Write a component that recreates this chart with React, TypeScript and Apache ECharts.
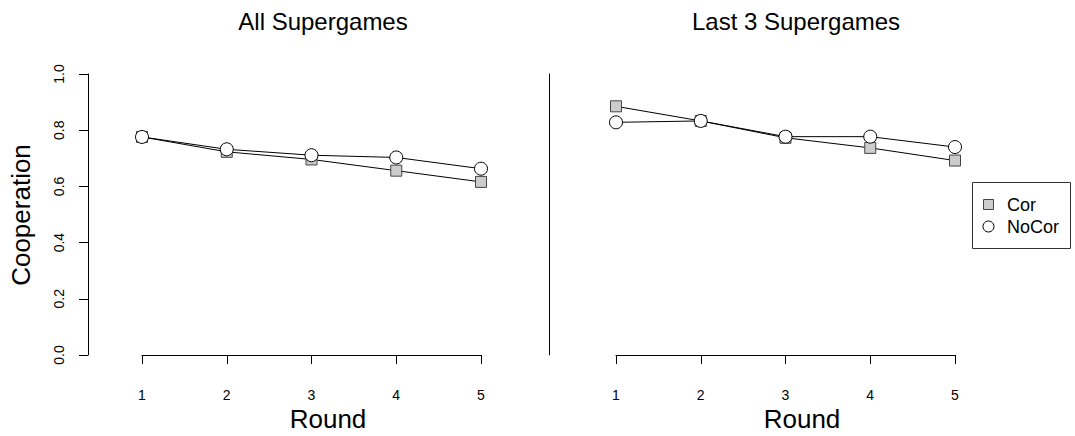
import React, { useEffect, useRef } from "react";
import * as echarts from "echarts";

const rounds = [1, 2, 3, 4, 5];
const roundLabels = ["1", "2", "3", "4", "5"];
const allCor = [0.776, 0.723, 0.696, 0.656, 0.616];
const allNoCor = [0.776, 0.732, 0.711, 0.703, 0.663];
const lastCor = [0.885, 0.833, 0.773, 0.737, 0.692];
const lastNoCor = [0.828, 0.833, 0.777, 0.777, 0.74];
const panelTitles = ["All Supergames", "Last 3 Supergames"];
const seriesNames = ["Cor", "NoCor"];

const FONT = "'Liberation Sans', Arial, Helvetica, sans-serif";

export default function App() {
  const ref = useRef<HTMLDivElement>(null);
  useEffect(() => {
    document.body.style.margin = "0";
    const chart = echarts.init(ref.current!, null, { renderer: "svg" });
    const pair = (vals: number[]) => rounds.map((r, i) => [r, vals[i]]);
    const xAxisBase = (gridIndex: number) => ({
      type: "value",
      gridIndex,
      min: 1,
      max: 5,
      interval: 1,
      offset: 11,
      axisLine: { show: true, lineStyle: { color: "#000", width: 1 } },
      axisTick: { show: true, length: 9, lineStyle: { color: "#000" } },
      axisLabel: {
        show: true,
        margin: 22,
        fontSize: 14,
        color: "#000",
        fontFamily: FONT,
        formatter: (v: number) => roundLabels[rounds.indexOf(v)] ?? "",
      },
      splitLine: { show: false },
    });
    const corStyle = {
      symbol: "rect",
      symbolSize: 11,
      itemStyle: { color: "#cccccc", borderColor: "#444", borderWidth: 1 },
    };
    const noCorStyle = {
      symbol: "circle",
      symbolSize: 13,
      itemStyle: { color: "#ffffff", borderColor: "#000", borderWidth: 1 },
    };
    const lineCommon = {
      type: "line",
      clip: false,
      showAllSymbol: true,
      lineStyle: { color: "#000", width: 1 },
      emphasis: { disabled: true },
    };
    chart.setOption({
      animation: false,
      grid: [
        { left: 142, top: 74, width: 339, height: 281 },
        { left: 616, top: 74, width: 339, height: 281 },
      ],
      xAxis: [xAxisBase(0), xAxisBase(1)],
      yAxis: [
        {
          type: "value",
          gridIndex: 0,
          min: 0,
          max: 1,
          interval: 0.2,
          offset: 54,
          axisLine: { show: true, lineStyle: { color: "#000", width: 1 } },
          axisTick: { show: true, length: 9, lineStyle: { color: "#000" } },
          axisLabel: {
            show: true,
            rotate: 90,
            margin: 22,
            fontSize: 14,
            color: "#000",
            fontFamily: FONT,
            formatter: (v: number) => v.toFixed(1),
          },
          splitLine: { show: false },
        },
        {
          type: "value",
          gridIndex: 1,
          min: 0,
          max: 1,
          interval: 0.2,
          offset: 67,
          axisLine: { show: true, lineStyle: { color: "#000", width: 1 } },
          axisTick: { show: false },
          axisLabel: { show: false },
          splitLine: { show: false },
        },
      ],
      series: [
        { ...lineCommon, ...corStyle, name: seriesNames[0], xAxisIndex: 0, yAxisIndex: 0, data: pair(allCor) },
        { ...lineCommon, ...noCorStyle, name: seriesNames[1], xAxisIndex: 0, yAxisIndex: 0, data: pair(allNoCor) },
        { ...lineCommon, ...corStyle, name: seriesNames[0], xAxisIndex: 1, yAxisIndex: 1, data: pair(lastCor) },
        { ...lineCommon, ...noCorStyle, name: seriesNames[1], xAxisIndex: 1, yAxisIndex: 1, data: pair(lastNoCor) },
      ],
      graphic: [
        { type: "text", x: 323, y: 21, style: { text: panelTitles[0], fontSize: 24, fontFamily: FONT, fill: "#000", align: "center", verticalAlign: "middle" } },
        { type: "text", x: 796, y: 21, style: { text: panelTitles[1], fontSize: 24, fontFamily: FONT, fill: "#000", align: "center", verticalAlign: "middle" } },
        { type: "text", x: 328, y: 419, style: { text: "Round", fontSize: 26, fontFamily: FONT, fill: "#000", align: "center", verticalAlign: "middle" } },
        { type: "text", x: 802, y: 419, style: { text: "Round", fontSize: 26, fontFamily: FONT, fill: "#000", align: "center", verticalAlign: "middle" } },
        { type: "text", x: 21, y: 215, rotation: Math.PI / 2, style: { text: "Cooperation", fontSize: 26, fontFamily: FONT, fill: "#000", align: "center", verticalAlign: "middle" } },
        { type: "rect", shape: { x: 972.5, y: 182.5, width: 98, height: 66 }, style: { fill: "#fff", stroke: "#333", lineWidth: 1 } },
        { type: "rect", shape: { x: 983.5, y: 199.5, width: 10, height: 10 }, style: { fill: "#cccccc", stroke: "#444", lineWidth: 1 } },
        { type: "circle", shape: { cx: 988.5, cy: 226.5, r: 5.5 }, style: { fill: "#fff", stroke: "#000", lineWidth: 1 } },
        { type: "text", x: 1007, y: 205, style: { text: seriesNames[0], fontSize: 18, fontFamily: FONT, fill: "#000", align: "left", verticalAlign: "middle" } },
        { type: "text", x: 1007, y: 227, style: { text: seriesNames[1], fontSize: 18, fontFamily: FONT, fill: "#000", align: "left", verticalAlign: "middle" } },
      ],
    });
    return () => chart.dispose();
  }, []);
  return <div ref={ref} style={{ width: 1075, height: 436 }} />;
}
